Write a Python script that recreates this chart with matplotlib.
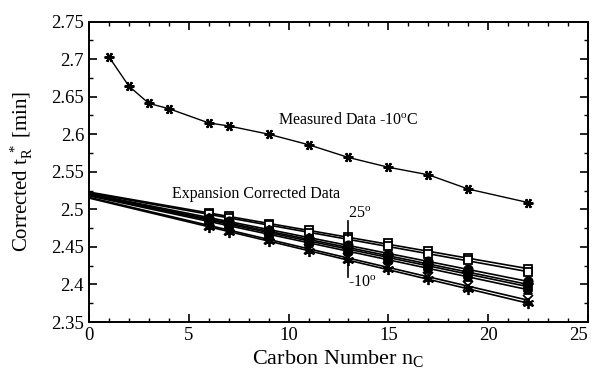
import matplotlib
matplotlib.use("Agg")
import matplotlib.pyplot as plt
from matplotlib.ticker import MultipleLocator

plt.rcParams['font.family'] = ['Liberation Serif', 'DejaVu Serif']
plt.rcParams['mathtext.fontset'] = 'custom'
plt.rcParams['mathtext.rm'] = 'Liberation Serif'
plt.rcParams['mathtext.it'] = 'Liberation Serif:italic'

# Measured data at -10 C
meas_x = [1, 2, 3, 4, 6, 7, 9, 11, 13, 15, 17, 19, 22]
meas_y = [2.703, 2.664, 2.641, 2.634, 2.615, 2.611, 2.600, 2.586, 2.569, 2.556, 2.546, 2.527, 2.509]

# Expansion corrected data (25 C ... -10 C)
corr_x = [6, 7, 9, 11, 13, 15, 17, 19, 22]
temps = ['25', '20', '15', '10', '5', '0', '-5', '-10']
corr_25 = [2.495, 2.491, 2.481, 2.472, 2.463, 2.455, 2.444, 2.435, 2.421]
corr_20 = [2.494, 2.489, 2.479, 2.469, 2.460, 2.451, 2.441, 2.432, 2.417]
corr_15 = [2.489, 2.484, 2.473, 2.462, 2.452, 2.441, 2.431, 2.420, 2.404]
corr_10 = [2.487, 2.482, 2.471, 2.460, 2.449, 2.438, 2.427, 2.417, 2.400]
corr_5 = [2.486, 2.480, 2.469, 2.458, 2.447, 2.436, 2.425, 2.414, 2.397]
corr_0 = [2.484, 2.478, 2.467, 2.455, 2.444, 2.433, 2.421, 2.410, 2.393]
corr_m5 = [2.479, 2.472, 2.460, 2.447, 2.435, 2.423, 2.410, 2.398, 2.379]
corr_m10 = [2.476, 2.470, 2.458, 2.445, 2.432, 2.420, 2.407, 2.394, 2.375]
corr_series = [corr_25, corr_20, corr_15, corr_10, corr_5, corr_0, corr_m5, corr_m10]

# Linear fit lines drawn from nC=0 to nC=22
fit_x = [0, 22]
fit_start = [2.523, 2.522, 2.521, 2.520, 2.519, 2.518, 2.516, 2.515]
fit_end = [2.421, 2.417, 2.404, 2.400, 2.397, 2.393, 2.379, 2.375]

x_ticks = [0, 5, 10, 15, 20, 25]
x_ticklabels = ['0', '5', '10', '15', '20', '25']
y_ticks = [2.35, 2.4, 2.45, 2.5, 2.55, 2.6, 2.65, 2.7, 2.75]
y_ticklabels = ['2.35', '2.4', '2.45', '2.5', '2.55', '2.6', '2.65', '2.7', '2.75']

markers = [
    dict(marker='s', mfc='white', ms=6),
    dict(marker='s', mfc='white', ms=6),
    dict(marker='o', mfc='black', ms=6),
    dict(marker='D', mfc='black', ms=5),
    dict(marker='s', mfc='black', ms=6),
    dict(marker='^', mfc='black', ms=6),
    dict(marker='x', mfc='black', ms=7),
    dict(marker=(6, 2, 0), mfc='black', ms=8),
]

fig = plt.figure(figsize=(5.93, 3.76), dpi=100)
ax = fig.add_axes([0.150, 0.1436, 0.8416, 0.7992])

ax.plot(meas_x, meas_y, color='black', lw=1.0, marker=(6, 2, 90), ms=7, mew=1.6, mec='black')

for ys, s, e, mk in zip(corr_series, fit_start, fit_end, markers):
    ax.plot(fit_x, [s, e], color='black', lw=1.2)
    ax.plot(corr_x, ys, ls='none', mec='black', mew=1.3, **mk)

ax.text(9.45, 2.619, 'Measured Data -10$^{\\rm o}$C', fontsize=11.5, va='center', ha='left')
ax.text(4.15, 2.521, 'Expansion Corrected Data', fontsize=11.5, va='center', ha='left')
ax.plot([13, 13], [2.4848, 2.464], color='black', lw=1.2)
ax.plot([13, 13], [2.430, 2.410], color='black', lw=1.2)
ax.text(13.0, 2.4937, '25$^{\\rm o}$', fontsize=11.5, va='center', ha='left')
ax.text(13.0, 2.4022, '-10$^{\\rm o}$', fontsize=11.5, va='center', ha='left')

ax.set_xlim(0, 25)
ax.set_ylim(2.35, 2.75)
ax.set_xticks(x_ticks)
ax.set_xticklabels(x_ticklabels)
ax.xaxis.set_minor_locator(MultipleLocator(1))
ax.set_yticks(y_ticks)
ax.set_yticklabels(y_ticklabels)
ax.yaxis.set_minor_locator(MultipleLocator(0.025))
ax.tick_params(which='both', direction='in', top=True, right=True, labelsize=13.5)
ax.tick_params(which='major', length=6, width=1.2)
ax.tick_params(which='minor', length=3, width=1.0)
for sp in ax.spines.values():
    sp.set_linewidth(1.4)

ax.get_xticklabels()[-1].set_horizontalalignment('right')

ax.set_xlabel('Carbon Number n$_{\\rm C}$', fontsize=16, labelpad=3)
ax.set_ylabel('Corrected t$_{\\rm R}^{\\ *}$ [min]', fontsize=15, labelpad=12)

fig.savefig('out.png', dpi=100)
